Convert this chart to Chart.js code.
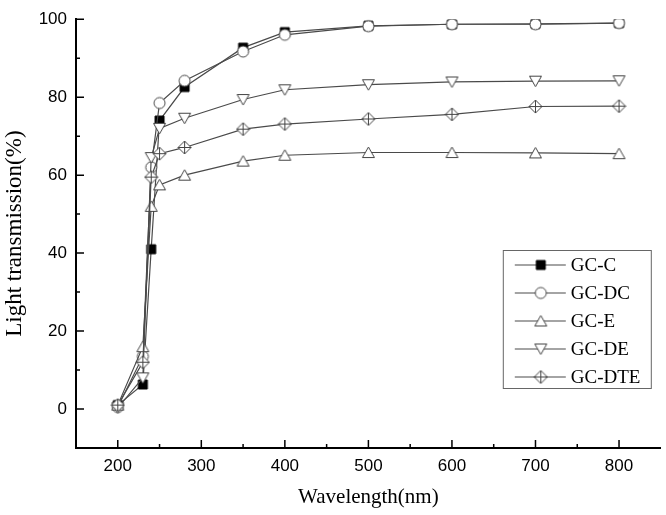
<!DOCTYPE html>
<html>
<head>
<meta charset="utf-8">
<script src="https://cdn.jsdelivr.net/npm/chart.js@4.4.0/dist/chart.umd.min.js"></script>
<style>
  body { margin: 0; background: #fff; }
  canvas { display: block; }
</style>
</head>
<body>
<canvas id="myChart" width="666" height="515"></canvas>
<script>
// wavelength (nm) and light transmission (%)
const wavelengths = [200, 230, 240, 250, 280, 350, 400, 500, 600, 700, 800];
const gcC   = [1.0, 6.3, 41.0, 74.0, 82.6, 92.7, 96.7, 98.3, 98.7, 98.8, 99.0];
const gcDC  = [0.5, 13.5, 62.0, 78.5, 84.2, 91.7, 96.0, 98.2, 98.7, 98.7, 99.0];
const gcE   = [1.0, 16.0, 52.0, 57.5, 60.0, 63.6, 65.1, 65.8, 65.8, 65.7, 65.5];
const gcDE  = [0.3, 8.0, 64.5, 72.0, 74.6, 79.4, 81.9, 83.2, 83.9, 84.1, 84.2];
const gcDTE = [1.0, 12.0, 59.5, 65.5, 67.1, 71.8, 73.1, 74.4, 75.6, 77.6, 77.7];

const seriesNames = ['GC-C', 'GC-DC', 'GC-E', 'GC-DE', 'GC-DTE'];

const xMajor = [200, 300, 400, 500, 600, 700, 800];
const xMinor = [250, 350, 450, 550, 650, 750];
const yMajor = [0, 20, 40, 60, 80, 100];
const yMinor = [10, 30, 50, 70, 90];

const lineColor = '#4a4a4a';

// marker images, drawn once
function marker(kind) {
    const c = document.createElement('canvas');
    c.width = 15;
    c.height = 15;
    const g = c.getContext('2d');
    g.translate(7.5, 7.5);
    g.lineWidth = 1;
    g.strokeStyle = '#444';
    g.fillStyle = '#fff';
    g.beginPath();
    if (kind === 'square') {
        g.fillStyle = '#000';
        g.strokeStyle = '#000';
        g.rect(-4.5, -4.5, 9, 9);
    } else if (kind === 'circle') {
        g.arc(0, 0, 5.5, 0, Math.PI * 2);
    } else if (kind === 'up') {
        g.moveTo(0, -5.5);
        g.lineTo(6, 5);
        g.lineTo(-6, 5);
        g.closePath();
    } else if (kind === 'down') {
        g.moveTo(0, 5.5);
        g.lineTo(6, -5);
        g.lineTo(-6, -5);
        g.closePath();
    } else {
        g.moveTo(0, -6.5);
        g.lineTo(6.5, 0);
        g.lineTo(0, 6.5);
        g.lineTo(-6.5, 0);
        g.closePath();
    }
    g.fill();
    g.stroke();
    if (kind === 'diamondplus') {
        g.beginPath();
        g.moveTo(0, -6.5); g.lineTo(0, 6.5);
        g.moveTo(-6.5, 0); g.lineTo(6.5, 0);
        g.stroke();
    }
    return c;
}

const markers = [marker('square'), marker('circle'), marker('up'), marker('down'), marker('diamondplus')];
const seriesValues = [gcC, gcDC, gcE, gcDE, gcDTE];

const datasets = seriesValues.map((vals, i) => ({
    label: seriesNames[i],
    data: wavelengths.map((w, j) => ({ x: w, y: vals[j] })),
    borderColor: lineColor,
    borderWidth: 1.2,
    pointStyle: markers[i],
    order: 5 - i
}));

const tickMarks = {
    id: 'tickMarks',
    afterDraw(chart) {
        const { ctx, chartArea: a, scales: { x, y } } = chart;
        ctx.save();
        ctx.strokeStyle = '#000';
        ctx.lineWidth = 1.5;
        ctx.beginPath();
        xMajor.forEach(v => { const p = x.getPixelForValue(v); ctx.moveTo(p, a.bottom); ctx.lineTo(p, a.bottom - 8); });
        xMinor.forEach(v => { const p = x.getPixelForValue(v); ctx.moveTo(p, a.bottom); ctx.lineTo(p, a.bottom - 4); });
        yMajor.forEach(v => { const p = y.getPixelForValue(v); ctx.moveTo(a.left, p); ctx.lineTo(a.left + 8, p); });
        yMinor.forEach(v => { const p = y.getPixelForValue(v); ctx.moveTo(a.left, p); ctx.lineTo(a.left + 4, p); });
        ctx.stroke();
        ctx.restore();
    }
};

const boxLegend = {
    id: 'boxLegend',
    afterDraw(chart) {
        const { ctx, chartArea: a } = chart;
        const right = a.right - 10;
        const bottom = a.bottom - 60;
        const left = right - 148;
        const rowH = 28;
        const top = bottom - 138;
        ctx.save();
        ctx.strokeStyle = '#666';
        ctx.lineWidth = 1;
        ctx.strokeRect(left + 0.5, top + 0.5, right - left, bottom - top);
        ctx.font = '19px "Liberation Serif"';
        ctx.fillStyle = '#000';
        ctx.textBaseline = 'middle';
        seriesNames.forEach((name, i) => {
            const cy = top + 15 + i * rowH;
            ctx.strokeStyle = lineColor;
            ctx.lineWidth = 1.2;
            ctx.beginPath();
            ctx.moveTo(left + 12, cy);
            ctx.lineTo(left + 63, cy);
            ctx.stroke();
            ctx.drawImage(markers[i], left + 38 - 7.5, cy - 7.5);
            ctx.fillText(name, left + 68, cy + 1);
        });
        ctx.restore();
    }
};

const ctx = document.getElementById('myChart').getContext('2d');

const myChart = new Chart(ctx, {
    type: 'line',
    data: { datasets: datasets },
    options: {
        responsive: false,
        animation: false,
        layout: { padding: { top: 10, right: 2, left: 0, bottom: 0 } },
        plugins: {
            legend: { display: false },
            tooltip: { enabled: false }
        },
        elements: {
            line: { tension: 0 }
        },
        scales: {
            x: {
                type: 'linear',
                min: 150,
                max: 850,
                afterBuildTicks: s => { s.ticks = xMajor.map(v => ({ value: v })); },
                afterFit: s => { s.height = 67; },
                grid: { display: false, drawTicks: false },
                border: { display: true, color: '#000', width: 2 },
                ticks: {
                    autoSkip: false,
                    maxRotation: 0,
                    padding: 8,
                    color: '#000',
                    font: { family: 'Liberation Sans', size: 17 }
                },
                title: {
                    display: true,
                    text: 'Wavelength(nm)',
                    color: '#000',
                    font: { family: 'Liberation Serif', size: 21 },
                    padding: { top: 0, bottom: 5 }
                }
            },
            y: {
                min: -10,
                max: 100,
                afterBuildTicks: s => { s.ticks = yMajor.map(v => ({ value: v })); },
                afterFit: s => { s.width = 76; },
                grid: { display: false, drawTicks: false },
                border: { display: true, color: '#000', width: 2 },
                ticks: {
                    padding: 9,
                    color: '#000',
                    font: { family: 'Liberation Sans', size: 17 }
                },
                title: {
                    display: true,
                    text: 'Light transmission(%)',
                    color: '#000',
                    font: { family: 'Liberation Serif', size: 23 },
                    padding: { top: 1, bottom: 0 }
                }
            }
        }
    },
    plugins: [tickMarks, boxLegend]
});
</script>
</body>
</html>
